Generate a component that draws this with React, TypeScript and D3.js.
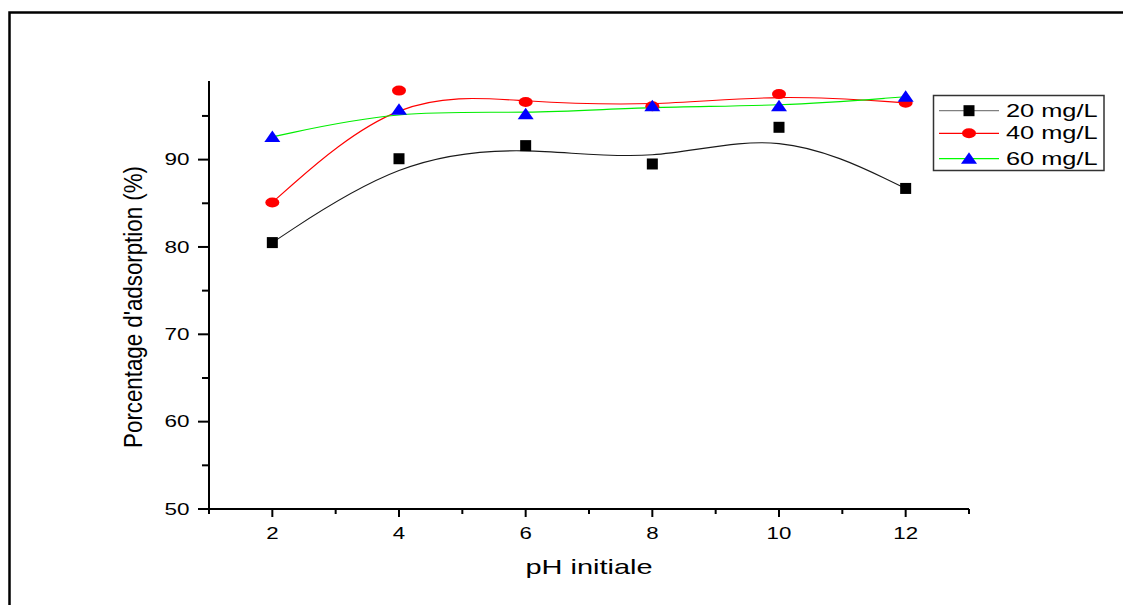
import React from "react";
import * as d3 from "d3";

const phValues = [2, 4, 6, 8, 10, 12];
const series20 = [80.5, 90.1, 91.6, 89.5, 93.7, 86.7];
const series40 = [85.1, 97.9, 96.6, 96.1, 97.5, 96.5];
const series60 = [92.6, 95.7, 95.2, 96.1, 96.1, 97.2];
const seriesNames = ["20 mg/L", "40 mg/L", "60 mg/L"];
const xMajorTicks = [2, 4, 6, 8, 10, 12];
const xMinorTicks = [1, 3, 5, 7, 9, 11, 13];
const yMajorTicks = [50, 60, 70, 80, 90];
const yMinorTicks = [55, 65, 75, 85, 95];
const xTitle = "pH initiale";
const yTitle = "Porcentage d'adsorption (%)";

const FONT = "'Liberation Sans', Arial, sans-serif";

export default function App() {
  const x = d3.scaleLinear().domain([1, 13]).range([209, 969]);
  const y = d3.scaleLinear().domain([50, 99]).range([509, 81]);
  const line = d3
    .line<[number, number]>()
    .x((d) => x(d[0]))
    .y((d) => y(d[1]))
    .curve(d3.curveBasis);

  const all = [series20, series40, series60];
  const lineColors = ["#1a1a1a", "#ff0000", "#00ee00"];
  const legendLineColors = ["#808080", "#ff0000", "#00ff00"];
  const markerColors = ["#000000", "#ff0000", "#0000ff"];

  const marker = (k: number, cx: number, cy: number, key: string) => {
    if (k === 0)
      return <rect key={key} x={cx - 5.5} y={cy - 5.5} width={11} height={11} fill={markerColors[0]} />;
    if (k === 1)
      return <ellipse key={key} cx={cx} cy={cy} rx={7} ry={5} fill={markerColors[1]} />;
    return (
      <path
        key={key}
        d={`M${cx},${cy - 6.5}L${cx + 8},${cy + 5}L${cx - 8},${cy + 5}Z`}
        fill={markerColors[2]}
      />
    );
  };

  const legendRows = [110.7, 133.3, 158.7];

  return (
    <svg
      width={1123}
      height={605}
      style={{ position: "absolute", left: 0, top: 0, background: "#fff" }}
    >
      <rect x={0} y={0} width={1123} height={605} fill="#fff" />
      {/* outer frame */}
      <path d="M9.5,620L9.5,12.5L1140,12.5" fill="none" stroke="#000" strokeWidth={2.5} />

      {/* series lines */}
      {all.map((s, k) => (
        <path
          key={"l" + k}
          d={line(phValues.map((p, i) => [p, s[i]] as [number, number])) || ""}
          fill="none"
          stroke={lineColors[k]}
          strokeWidth={1.1}
        />
      ))}
      {/* markers */}
      {all.map((s, k) => s.map((v, i) => marker(k, x(phValues[i]), y(v), `m${k}-${i}`)))}

      {/* axes */}
      <line x1={x(1)} x2={x(13)} y1={y(50)} y2={y(50)} stroke="#000" strokeWidth={2} />
      <line x1={x(1)} x2={x(1)} y1={y(50) + 1} y2={y(99)} stroke="#000" strokeWidth={2} />
      {xMajorTicks.map((t) => (
        <g key={"xt" + t}>
          <line x1={x(t)} x2={x(t)} y1={y(50)} y2={y(50) + 8} stroke="#000" strokeWidth={2} />
          <text
            transform={`translate(${x(t)},538.5) scale(1.35,1)`}
            textAnchor="middle"
            fontFamily={FONT}
            fontSize={16.5}
            fill="#000"
          >
            {t}
          </text>
        </g>
      ))}
      {xMinorTicks.map((t) => (
        <line key={"xm" + t} x1={x(t)} x2={x(t)} y1={y(50)} y2={y(50) + 5} stroke="#000" strokeWidth={2} />
      ))}
      {yMajorTicks.map((t) => (
        <g key={"yt" + t}>
          <line x1={x(1) - 11} x2={x(1)} y1={y(t)} y2={y(t)} stroke="#000" strokeWidth={2} />
          <text
            transform={`translate(189.5,${y(t) + 5.8}) scale(1.38,1)`}
            textAnchor="end"
            fontFamily={FONT}
            fontSize={16.3}
            fill="#000"
          >
            {t}
          </text>
        </g>
      ))}
      {yMinorTicks.map((t) => (
        <line key={"ym" + t} x1={x(1) - 7} x2={x(1)} y1={y(t)} y2={y(t)} stroke="#000" strokeWidth={2} />
      ))}

      {/* axis titles */}
      <text
        transform={`translate(589,573.5) scale(1.38,1)`}
        textAnchor="middle"
        fontFamily={FONT}
        fontSize={21}
        fill="#000"
      >
        {xTitle}
      </text>
      <text
        transform={`translate(142,307) scale(1.15,1) rotate(-90)`}
        textAnchor="middle"
        fontFamily={FONT}
        fontSize={22.3}
        fill="#000"
      >
        {yTitle}
      </text>

      {/* legend */}
      <rect x={933.5} y={95.5} width={170.5} height={75} fill="#fff" stroke="#333" strokeWidth={1.5} />
      {seriesNames.map((name, k) => (
        <g key={"lg" + k}>
          <line x1={939} x2={999} y1={legendRows[k]} y2={legendRows[k]} stroke={legendLineColors[k]} strokeWidth={1.2} />
          {marker(k, 969, legendRows[k], "lm" + k)}
          <text
            transform={`translate(1006,${legendRows[k] + 6}) scale(1.45,1)`}
            fontFamily={FONT}
            fontSize={17.5}
            fill="#000"
          >
            {name}
          </text>
        </g>
      ))}
    </svg>
  );
}
